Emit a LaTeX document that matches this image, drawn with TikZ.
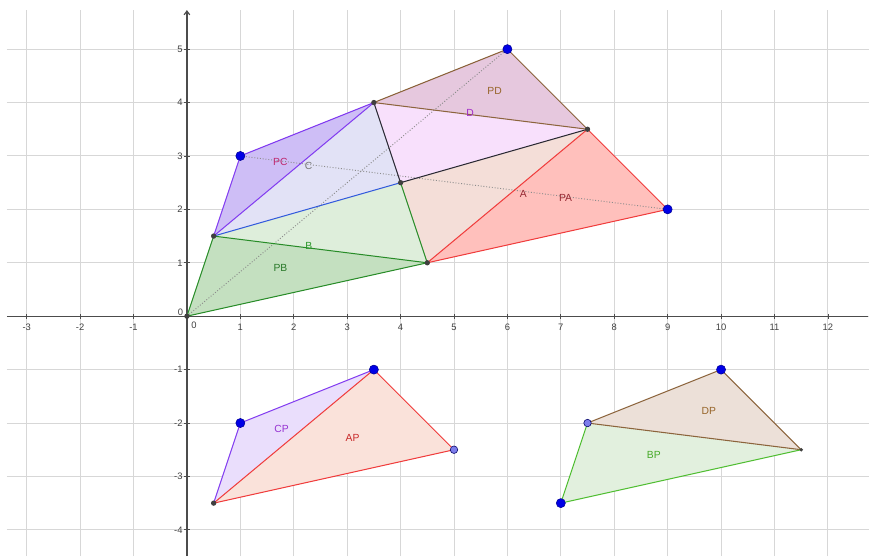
\documentclass[tikz,border=0pt]{standalone}
\usepackage{fontspec}
\setmainfont{Liberation Sans}
\usetikzlibrary{arrows.meta}
\usepackage{xcolor}
% fills
\definecolor{fPB}{RGB}{196,224,192}
\definecolor{fB}{RGB}{222,238,219}
\definecolor{fPC}{RGB}{206,190,246}
\definecolor{fC}{RGB}{226,226,246}
\definecolor{fD}{RGB}{248,224,252}
\definecolor{fPD}{RGB}{230,200,222}
\definecolor{fA}{RGB}{244,222,216}
\definecolor{fPA}{RGB}{255,192,188}
\definecolor{fCP}{RGB}{234,222,252}
\definecolor{fAP}{RGB}{250,226,218}
\definecolor{fDP}{RGB}{236,224,216}
\definecolor{fBP}{RGB}{226,240,222}
% edges
\definecolor{eGreen}{RGB}{40,140,40}
\definecolor{eBlue}{RGB}{50,90,220}
\definecolor{eViolet}{RGB}{130,60,240}
\definecolor{eDark}{RGB}{40,40,50}
\definecolor{eBrown}{RGB}{140,100,60}
\definecolor{eRed}{RGB}{240,60,60}
\definecolor{eLime}{RGB}{80,190,50}
% labels
\definecolor{tPC}{RGB}{190,40,110}
\definecolor{tC}{RGB}{120,120,120}
\definecolor{tB}{RGB}{40,150,40}
\definecolor{tPB}{RGB}{40,120,40}
\definecolor{tD}{RGB}{160,40,200}
\definecolor{tPD}{RGB}{150,100,40}
\definecolor{tA}{RGB}{150,40,50}
\definecolor{tCP}{RGB}{150,50,210}
\definecolor{tAP}{RGB}{200,40,40}
\definecolor{tBP}{RGB}{70,170,40}
\definecolor{gridgray}{RGB}{215,215,215}
\definecolor{bigdot}{RGB}{0,0,230}
\definecolor{softdot}{RGB}{125,125,235}

\begin{document}
\begin{tikzpicture}[
	gridline/.style={gridgray, line width=0.5pt},
	axis/.style={black!70, line width=0.6pt},
	edge/.style={line width=0.55pt},
	tick/.style={font=\fontsize{5}{6}\selectfont, text=black!75, inner sep=1pt},
	lbl/.style={font=\fontsize{5.5}{6}\selectfont, inner sep=0pt}
]
\useasboundingbox (-3.5,-4.49) rectangle (12.77,5.92);
% grid and axes
\foreach \x in {-3,...,12}
	\draw[gridline] (\x,-4.49) -- (\x,5.73);
\foreach \y in {-4,...,5}
	\draw[gridline] (-3.37,\y) -- (12.77,\y);
\draw[axis] (-3.37,0) -- (12.75,0);
\draw[axis, -{Straight Barb[length=2pt,width=3pt]}] (0,-4.49) -- (0,5.73);
\foreach \x in {-3,-2,-1,1,2,3,4,5,6,7,8,9,10,11,12}
{
	\draw[axis, line width=0.4pt] (\x,-0.05) -- (\x,0.05);
	\node[tick] (xt\x) at (\x,-0.2) {\x};
}
\foreach \y in {-4,-3,-2,-1,1,2,3,4,5}
{
	\draw[axis, line width=0.4pt] (-0.05,\y) -- (0.05,\y);
	\node[tick, anchor=east] (yt\y) at (-0.04,\y) {\y};
}
\node[tick] (xt0) at (0.13,-0.17) {0};
\node[tick] (yt0) at (-0.12,0.08) {0};

% points
\coordinate (pB) at (0,0);
\coordinate (pC) at (1,3);
\coordinate (pD) at (6,5);
\coordinate (pA) at (9,2);
\coordinate (v1) at (0.5,1.5);
\coordinate (v2) at (4.5,1);
\coordinate (v3) at (7.5,3.5);
\coordinate (v4) at (3.5,4);
\coordinate (m) at (4,2.5);
\coordinate (cp1) at (0.5,-3.5);
\coordinate (cp2) at (1,-2);
\coordinate (cp3) at (3.5,-1);
\coordinate (ap3) at (5,-2.5);
\coordinate (dp1) at (7.5,-2);
\coordinate (dp2) at (10,-1);
\coordinate (dp3) at (11.5,-2.5);
\coordinate (bp3) at (7,-3.5);

% triangles
\foreach \pa/\pb/\pc/\col in
{
	pB/v1/v2/fPB,
	v1/m/v2/fB,
	v1/pC/v4/fPC,
	v1/v4/m/fC,
	v4/v3/m/fD,
	v4/pD/v3/fPD,
	m/v3/v2/fA,
	v2/v3/pA/fPA,
	cp1/cp2/cp3/fCP,
	cp1/cp3/ap3/fAP,
	dp1/dp2/dp3/fDP,
	dp1/dp3/bp3/fBP}
	\fill[\col] (\pa) -- (\pb) -- (\pc) -- cycle;

\draw[densely dotted, black!45, line width=0.5pt] (pB) -- (pD);
\draw[densely dotted, black!45, line width=0.5pt] (pC) -- (pA);

% sides
\foreach \pa/\pb/\col in
{
	pB/v1/eGreen, pB/v2/eGreen, v1/v2/eGreen, v2/m/eGreen,
	v1/m/eBlue,
	v1/pC/eViolet, pC/v4/eViolet, v1/v4/eViolet,
	v4/m/eDark, m/v3/eDark,
	v4/v3/eBrown, v4/pD/eBrown, pD/v3/eBrown,
	v2/v3/eRed, v3/pA/eRed, pA/v2/eRed,
	cp1/cp2/eViolet, cp2/cp3/eViolet,
	cp1/cp3/eRed, cp3/ap3/eRed, ap3/cp1/eRed,
	dp1/dp2/eBrown, dp2/dp3/eBrown, dp1/dp3/eBrown,
	dp1/bp3/eLime, bp3/dp3/eLime}
	\draw[edge, \col] (\pa) -- (\pb);

% dots
\foreach \p in {pB,v1,v2,v3,v4,m,cp1}
	\fill[black!75] (\p) circle (0.05);
\fill[black!75] (dp3) circle (0.035);
\foreach \p in {pC,pD,pA,cp2,cp3,dp2,bp3}
	\filldraw[fill=bigdot, draw=blue!60!black, line width=0.3pt] (\p) circle (0.085);
\foreach \p in {ap3,dp1}
	\filldraw[fill=softdot, draw=blue!40!black, line width=0.3pt] (\p) circle (0.07);

% names
\node[lbl, text=tPC] (nPC) at (1.75,2.88) {PC};
\node[lbl, text=tC] (nC) at (2.28,2.81) {C};
\node[lbl, text=tB] (nB) at (2.28,1.31) {B};
\node[lbl, text=tPB] (nPB) at (1.75,0.9) {PB};
\node[lbl, text=tD] (nD) at (5.3,3.81) {D};
\node[lbl, text=tPD] (nPD) at (5.76,4.21) {PD};
\node[lbl, text=tA] (nA) at (6.3,2.28) {A};
\node[lbl, text=tA] (nPA) at (7.09,2.22) {PA};
\node[lbl, text=tCP] (nCP) at (1.77,-2.11) {CP};
\node[lbl, text=tAP] (nAP) at (3.1,-2.28) {AP};
\node[lbl, text=tPD] (nDP) at (9.77,-1.78) {DP};
\node[lbl, text=tBP] (nBP) at (8.74,-2.59) {BP};
\end{tikzpicture}
\end{document}
